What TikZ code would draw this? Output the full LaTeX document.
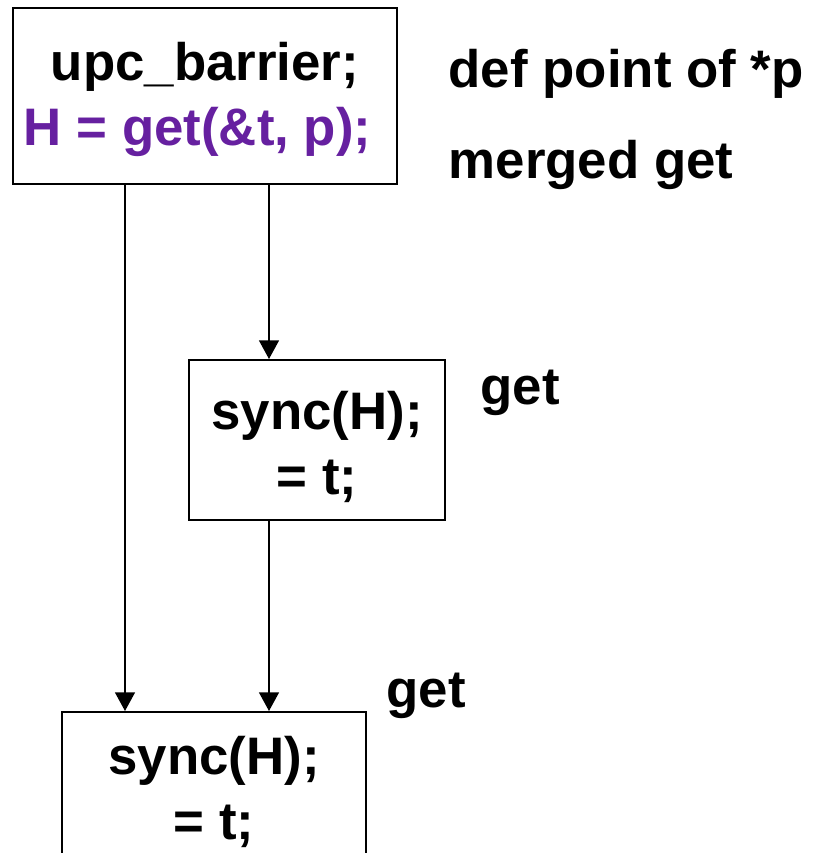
\documentclass[tikz,border=0pt]{standalone}
\usepackage{fontspec}
\setmainfont{Liberation Sans}
\usetikzlibrary{arrows.meta}
\definecolor{getpurple}{RGB}{102,32,160}

\begin{document}
\begin{tikzpicture}[x=0.75pt, y=-0.75pt,
    font=\fontsize{39.6}{48.75}\selectfont\bfseries,
    block/.style={draw, line width=1.5pt, inner sep=0pt, align=center},
    flow/.style={line width=1pt, -{Triangle[length=14pt,width=15pt]}}]
    \useasboundingbox (0,0) rectangle (822,853);
    \clip (0,0) rectangle (822,853);
    % the three blocks
    \node[block, minimum width=288pt, minimum height=132pt] (barrier) at (205,96)
        {\rule{0pt}{0.85em}upc\_barrier;\\ \textcolor{getpurple}{H = get(\&t, p);}\hspace*{11pt}};
    \node[block, minimum width=192pt, minimum height=120pt] (sync1) at (317,440)
        {\rule{0pt}{1em}sync(H);\\ = t;};
    \node[block, minimum width=228pt, minimum height=120pt] (sync2) at (214,792)
        {sync(H);\\ = t;};
    % notes beside the blocks
    \node[anchor=base west] (defpt) at (444,87) {def point of *p};
    \node[anchor=base west] (merged) at (444,178) {merged get};
    \node[anchor=base west] (get1) at (476,404) {get};
    \node[anchor=base west] (get2) at (382,707) {get};
    % edges
    \coordinate (lane1) at (125,0);
    \coordinate (lane2) at (269,0);
    \draw[flow] (barrier.south -| lane1) -- (sync2.north -| lane1);
    \draw[flow] (barrier.south -| lane2) -- (sync1.north -| lane2);
    \draw[flow] (sync1.south -| lane2) -- (sync2.north -| lane2);
\end{tikzpicture}
\end{document}
